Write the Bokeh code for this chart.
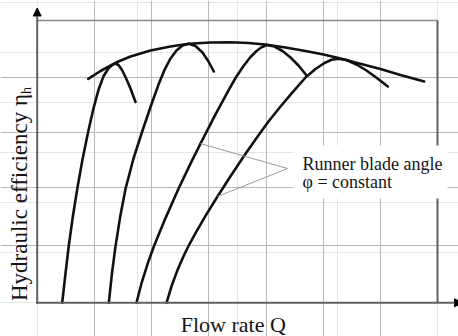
import numpy as np
from bokeh.plotting import figure
from bokeh.models import Range1d, Grid, FixedTicker, Arrow, NormalHead
from bokeh.core.properties import value
from bokeh.embed import file_html
from bokeh.resources import INLINE

# Flow rate Q and hydraulic efficiency (arbitrary units, origin at the axes corner)
# for four runner blade angles
q_phi1 = [25.0, 28.3, 31.6, 35.8, 40.3, 45.3, 50.8, 56.3, 61.3, 66.3, 71.3, 75.3, 78.3, 81.3, 84.8, 88.3, 93.3, 98.3]
eta_phi1 = [0, 29.3, 57.3, 87.3, 115.3, 143.3, 170.3, 194.5, 213.0, 226.5, 234.5, 238.1, 239.3, 237.8, 232.8, 225.8, 214.3, 200.8]

q_phi2 = [71.6, 74.8, 78.3, 83.3, 88.3, 96.3, 105.0, 113.3, 121.3, 127.3, 133.3, 139.3, 145.3, 151.6, 158.3, 165.3, 171.3, 176.6]
eta_phi2 = [0, 29.8, 56.4, 87.9, 113.9, 144.3, 171.3, 195.8, 218.2, 232.9, 244.3, 252.4, 257.2, 259.0, 256.8, 250.3, 241.3, 231.3]

q_phi3 = [99.3, 104.3, 110.3, 116.6, 128.3, 141.3, 153.3, 163.3, 178.3, 191.3, 198.3, 206.3, 213.3, 219.3, 224.3, 229.6, 237.3, 245.3, 253.3, 261.3, 268.6]
eta_phi3 = [0, 19.5, 38.7, 56.3, 84.7, 114.0, 139.2, 159.2, 188.5, 212.5, 224.8, 236.8, 245.8, 251.8, 255.5, 257.8, 256.3, 251.8, 245.3, 237.3, 228.3]

q_phi4 = [129.3, 134.3, 140.3, 146.3, 151.3, 158.3, 168.3, 180.3, 193.3, 208.3, 221.3, 231.3, 243.3, 255.3, 268.3, 278.3, 287.3, 294.3, 301.3, 309.3, 319.3, 329.3, 340.3, 350.6]
eta_phi4 = [0, 16.5, 32.7, 46.5, 56.8, 69.7, 86.9, 106.3, 126.5, 149.0, 167.5, 181.3, 196.3, 210.5, 225.3, 233.8, 239.8, 243.0, 244.0, 242.8, 238.3, 232.3, 224.3, 216.3]

# Envelope through the best-efficiency points
q_env = [51.0, 63.3, 78.3, 93.3, 113.3, 133.3, 151.6, 173.3, 193.3, 211.3, 228.3, 248.3, 268.3, 286.3, 301.3, 318.3, 343.3, 363.3, 387.0]
eta_env = [224.0, 231.8, 240.0, 246.3, 252.3, 256.3, 259.0, 260.3, 260.6, 259.8, 258.3, 255.3, 251.8, 248.3, 244.8, 240.3, 233.8, 227.8, 221.3]

Q_MAX = 400.3
ETA_MAX = 282.3
x_grid_ticks = [57.2, 114.4, 171.6, 228.8, 286.0, 343.1]
y_grid_ticks = [57.3, 115.6, 170.6, 225.6]

x_title = "Flow rate Q"
y_title = "Hydraulic efficiency \u03b7"
y_title_sub = "h"
note_lines = ["Runner blade angle", "\u03c6 = constant"]

SERIF = value("Liberation Serif")
INK = "#151515"

p = figure(width=458, height=336, output_backend="svg", toolbar_location=None,
           x_axis_location=None, y_axis_location=None,
           x_range=Range1d(-36.7, 421.3), y_range=Range1d(-33.7, 302.3),
           min_border=0)
p.outline_line_color = None
p.background_fill_color = "white"
p.border_fill_color = "white"

# grid lines confined to the chart area
p.add_layout(Grid(dimension=0, ticker=FixedTicker(ticks=x_grid_ticks), bounds=(0, ETA_MAX),
                  grid_line_color="#b8b8b8", grid_line_width=1))
p.add_layout(Grid(dimension=1, ticker=FixedTicker(ticks=y_grid_ticks), bounds=(0, Q_MAX),
                  grid_line_color="#b8b8b8", grid_line_width=1))

# top and right frame edges
p.segment(x0=[0], y0=[ETA_MAX], x1=[Q_MAX], y1=[ETA_MAX], line_color="#8a8a8a", line_width=1.5)
p.segment(x0=[Q_MAX], y0=[0], x1=[Q_MAX], y1=[ETA_MAX], line_color="#606060", line_width=2)

# white panel behind the note
p.quad(left=[256.3], right=[410.3], bottom=[104.3], top=[157.3],
       fill_color="white", line_color=None)

# axes with arrow heads
p.add_layout(Arrow(x_start=0, y_start=-1, x_end=0, y_end=294.8,
                   line_color="#606060", line_width=2,
                   end=NormalHead(size=8, fill_color="black", line_color="black")))
p.add_layout(Arrow(x_start=-1, y_start=0, x_end=425.3, y_end=0,
                   line_color="#606060", line_width=2,
                   end=NormalHead(size=8, fill_color="black", line_color="black")))

for qs, es in [(q_phi1, eta_phi1), (q_phi2, eta_phi2), (q_phi3, eta_phi3),
               (q_phi4, eta_phi4), (q_env, eta_env)]:
    p.line(qs, es, line_color="#111111", line_width=2.6, line_join="round", line_cap="round")

# leader lines from the note to two of the curves
p.segment(x0=[250.3, 250.3], y0=[134.3, 134.3], x1=[163.3, 180.3], y1=[159.2, 106.3],
          line_color="#9a9a9a", line_width=1)

p.text(x=[265.3, 265.3], y=[139.3, 120.6], text=note_lines, text_font=SERIF,
       text_font_size="18px", text_color=INK, text_align="left", text_baseline="alphabetic")

p.text(x=[196.1], y=[-21.2], text=[x_title], text_font=SERIF, text_font_size="22px",
       text_color=INK, text_align="center", text_baseline="alphabetic")

p.text(x=[-17.6], y=[208.8], text=[y_title], angle=np.pi / 2, text_font=SERIF,
       text_font_size="23px", text_color=INK, text_align="right", text_baseline="alphabetic")
p.text(x=[-10.9], y=[208.8], text=[y_title_sub], angle=np.pi / 2, text_font=SERIF,
       text_font_size="14px", text_color=INK, text_align="left", text_baseline="alphabetic")

open("out.html", "w").write(file_html(p, INLINE))
